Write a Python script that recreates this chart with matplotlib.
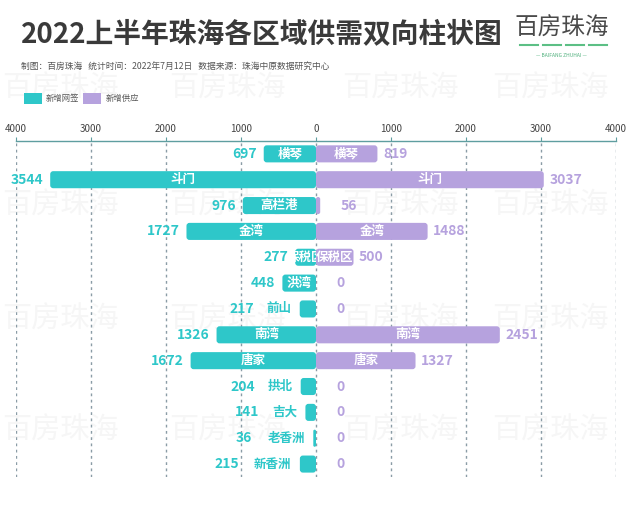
import numpy as np
import matplotlib
matplotlib.use('Agg')
from matplotlib import pyplot as plt
from matplotlib.patches import FancyBboxPatch, Rectangle

plt.rcParams['font.family'] = ['Noto Sans CJK SC', 'DejaVu Sans']

## data ##
regions = ['横琴', '斗门', '高栏港', '金湾', '保税区', '洪湾', '前山',
           '南湾', '唐家', '拱北', '吉大', '老香洲', '新香洲']
signed = [697, 3544, 976, 1727, 277, 448, 217, 1326, 1672, 204, 141, 36, 215]
supply = [819, 3037, 56, 1488, 500, 0, 0, 2451, 1327, 0, 0, 0, 0]
xticks = [-4000, -3000, -2000, -1000, 0, 1000, 2000, 3000, 4000]
xticklabels = ['4000', '3000', '2000', '1000', '0', '1000', '2000', '3000', '4000']

title = '2022上半年珠海各区域供需双向柱状图'
subtitle = '制图：百房珠海   统计时间：2022年7月12日   数据来源：珠海中原数据研究中心'
legend_names = ['新增网签', '新增供应']

teal = '#2ec7c9'
purple = '#b6a2de'

fig = plt.figure(figsize=(6.4, 5.2), dpi=100)
ax = fig.add_axes([0.025, 0.0827, 0.9375, 0.6463])

y = np.arange(len(regions))
left_bars = ax.barh(y, -np.array(signed), height=0.66, color=teal)
right_bars = ax.barh(y, supply, height=0.66, color=purple)

ax.set_xlim(-4000, 4000)
ax.set_ylim(len(regions) - 0.5, -0.5)

# swap plain bars for rounded ones (same geometry)
# left bars under left labels, right bars on top of them
asp = (0.116 / 40)
for bars, z in ((left_bars, 3), (right_bars, 5)):
    for p in bars:
        x0, y0, w, h = p.get_x(), p.get_y(), p.get_width(), p.get_height()
        p.set_visible(False)
        if w == 0:
            continue
        if w < 0:
            x0, w = x0 + w, -w
        rs = min(40, w / 2)
        fb = FancyBboxPatch((x0, y0), w, h,
                            boxstyle=f'round,pad=0,rounding_size={rs}',
                            mutation_aspect=asp, fc=p.get_facecolor(), ec='none', zorder=z)
        ax.add_patch(fb)

# labels, left side
for i, v in enumerate(signed):
    if v >= 250:
        ax.text(-v / 2, i, regions[i], color='white', fontsize=9, fontweight='bold',
                ha='center', va='center', zorder=4)
        ax.annotate(str(v), (-v, i), xytext=(-5, 0), textcoords='offset points',
                    ha='right', va='center', color=teal, fontsize=10, fontweight='bold', zorder=4)
    else:
        ax.annotate(regions[i], (-v, i), xytext=(-6, 0), textcoords='offset points',
                    ha='right', va='center', color=teal, fontsize=9, fontweight='bold', zorder=4)
        ax.annotate(str(v), (-v, i), xytext=(-6 - 11 * len(regions[i]) - 5, 0),
                    textcoords='offset points', ha='right', va='center',
                    color=teal, fontsize=10, fontweight='bold', zorder=4)

# labels, right side
for i, v in enumerate(supply):
    if v >= 400:
        ax.text(v / 2, i, regions[i], color='white', fontsize=9, fontweight='bold',
                ha='center', va='center', zorder=6)
        ax.annotate(str(v), (v, i), xytext=(4, 0), textcoords='offset points',
                    ha='left', va='center', color=purple, fontsize=10, fontweight='bold', zorder=6)
    else:
        ax.annotate(str(v), (v, i), xytext=(15, 0), textcoords='offset points',
                    ha='left', va='center', color=purple, fontsize=10, fontweight='bold', zorder=6)

# axis styling
ax.xaxis.tick_top()
ax.set_xticks(xticks)
ax.set_xticklabels(xticklabels)
ax.tick_params(axis='x', colors='#5f9ea0', labelcolor='#444444', labelsize=7,
               length=3, pad=2)
ax.set_yticks([])
for s in ['left', 'right', 'bottom']:
    ax.spines[s].set_visible(False)
ax.spines['top'].set_color('#5f9ea0')
ax.spines['top'].set_linewidth(1)
ax.grid(axis='x', color='#8a9ca6', linestyle=(0, (2, 2.5)), linewidth=1)
ax.set_axisbelow(True)
ax.patch.set_alpha(0)

# watermarks (behind the axes)
for wy in [0.83, 0.605, 0.385, 0.172]:
    for wx in [0.095, 0.355, 0.625, 0.86]:
        fig.text(wx, wy, '百房珠海', fontsize=21, color='#f6f6f6', style='italic',
                 fontweight='light', ha='center', va='center', zorder=-5)

# header
fig.text(0.033, 0.932, title, fontsize=20, fontweight='bold', color='#3a3a3a',
         ha='left', va='center')
fig.text(0.033, 0.873, subtitle, fontsize=6.3, color='#555555', ha='left', va='center')
fig.text(0.878, 0.945, '百房珠海', fontsize=17, color='#4a4a4a', ha='center', va='center',
         fontweight='light')
for lx in [0.812, 0.848, 0.884, 0.920]:
    fig.lines.append(plt.Line2D([lx, lx + 0.028], [0.914, 0.914], transform=fig.transFigure,
                                color='#5cbf85', linewidth=1.5))
fig.text(0.878, 0.893, '— BAIFANG ZHUHAI —', fontsize=3.5, color='#4caf7a',
         ha='center', va='center')

# legend
fig.patches.append(Rectangle((0.038, 0.80), 0.028, 0.022, transform=fig.transFigure,
                             fc=teal, ec='none'))
fig.text(0.071, 0.811, legend_names[0], fontsize=6, color='#555555', ha='left', va='center')
fig.patches.append(Rectangle((0.13, 0.80), 0.028, 0.022, transform=fig.transFigure,
                             fc=purple, ec='none'))
fig.text(0.165, 0.811, legend_names[1], fontsize=6, color='#555555', ha='left', va='center')

fig.savefig('out.png', dpi=100, facecolor='white')
